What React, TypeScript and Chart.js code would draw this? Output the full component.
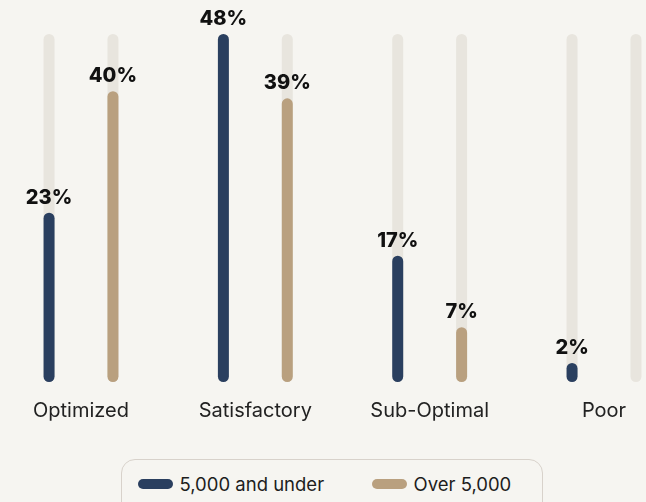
import React, { useEffect, useRef } from "react";
import { Chart, registerables } from "chart.js";

Chart.register(...registerables);

const categories = ["Optimized", "Satisfactory", "Sub-Optimal", "Poor"];
const seriesNames = ["5,000 and under", "Over 5,000"];
const smallOrgs = [23, 48, 17, 2];
const largeOrgs = [40, 39, 7, 0];
const trackValues = [48, 48, 48, 48];

const NAVY = "#2a3f5f";
const TAN = "#b9a07f";
const TRACK = "#e8e5de";
const BG = "#f6f5f1";
const BASE = -0.67;

const labelPlugin = {
  id: "valueLabels",
  afterDatasetsDraw(chart: any) {
    const ctx = chart.ctx;
    ctx.save();
    ctx.font = "800 20px Inter";
    ctx.fillStyle = "#111111";
    ctx.textAlign = "center";
    ctx.textBaseline = "alphabetic";
    [0, 1].forEach((di) => {
      const meta = chart.getDatasetMeta(di);
      const src = di === 0 ? smallOrgs : largeOrgs;
      meta.data.forEach((el: any, i: number) => {
        const v = src[i];
        if (!v) return;
        ctx.fillText(`${v}%`, el.x, el.y - 9);
      });
    });
    ctx.restore();
  },
};

export default function App() {
  const ref = useRef<HTMLCanvasElement>(null);

  useEffect(() => {
    document.body.style.margin = "0";
    document.body.style.background = BG;
    const barCommon = {
      categoryPercentage: 0.733,
      barPercentage: 0.172,
      borderRadius: 6,
      borderSkipped: false as const,
      base: BASE,
      clip: false as const,
    };
    const chart = new Chart(ref.current!, {
      type: "bar",
      data: {
        labels: categories,
        datasets: [
          {
            label: seriesNames[0],
            data: smallOrgs.map((v) => (v > 0 ? v : null)),
            backgroundColor: NAVY,
            stack: "a",
            order: 1,
            ...barCommon,
          },
          {
            label: seriesNames[1],
            data: largeOrgs.map((v) => (v > 0 ? v : null)),
            backgroundColor: TAN,
            stack: "b",
            order: 1,
            ...barCommon,
          },
          {
            label: "track-a",
            data: trackValues,
            backgroundColor: TRACK,
            stack: "a",
            order: 2,
            ...barCommon,
          },
          {
            label: "track-b",
            data: trackValues,
            backgroundColor: TRACK,
            stack: "b",
            order: 2,
            ...barCommon,
          },
        ] as any,
      },
      options: {
        responsive: false,
        animation: false,
        layout: { padding: { left: 81, right: 42, top: 34, bottom: 0 } },
        plugins: {
          legend: { display: false },
          tooltip: { enabled: false },
        },
        scales: {
          x: {
            stacked: true,
            offset: false,
            grid: { display: false, drawTicks: false },
            border: { display: false },
            ticks: {
              color: "#222222",
              font: { family: "Inter", size: 20, weight: "400" },
              padding: 17,
              maxRotation: 0,
              autoSkip: false,
            },
            afterFit(scale: any) {
              scale.height = 68;
            },
          },
          y: {
            stacked: false,
            display: false,
            min: BASE,
            max: 48,
          },
        },
      },
      plugins: [labelPlugin],
    });
    return () => chart.destroy();
  }, []);

  const swatch = (color: string, left: number) => ({
    position: "absolute" as const,
    left,
    top: 18.5,
    width: 35,
    height: 10,
    borderRadius: 5,
    background: color,
  });

  return (
    <div style={{ position: "relative", width: 646, height: 502, background: BG, overflow: "hidden" }}>
      <canvas ref={ref} width={646} height={450} style={{ display: "block" }} />
      <div
        style={{
          position: "absolute",
          left: 121,
          top: 459,
          width: 420,
          height: 70,
          border: "1.5px solid #d8d2cb",
          borderRadius: 14,
          fontFamily: "Inter",
          fontSize: 18.5,
          color: "#1d1d1d",
        }}
      >
        <div style={swatch(NAVY, 15.5)} />
        <span style={{ position: "absolute", left: 57.5, top: 12.5, whiteSpace: "nowrap" }}>{seriesNames[0]}</span>
        <div style={swatch(TAN, 249.5)} />
        <span style={{ position: "absolute", left: 291.5, top: 12.5, whiteSpace: "nowrap" }}>{seriesNames[1]}</span>
      </div>
    </div>
  );
}
